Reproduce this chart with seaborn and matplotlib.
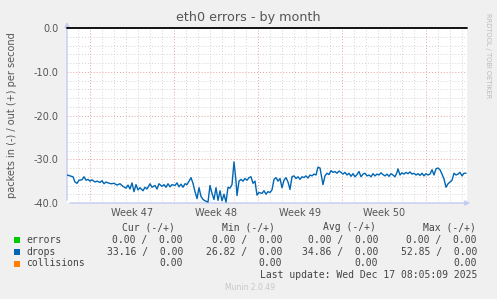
import numpy as np
import pandas as pd
import matplotlib
matplotlib.use("Agg")
import matplotlib.pyplot as plt
from matplotlib.transforms import blended_transform_factory
import seaborn as sns

# ---------------- data ----------------
hours = [0, 6, 12, 16, 20, 24, 30, 34, 38, 42, 46, 50, 56, 60, 66, 70, 74, 78, 82, 88,
         94, 100, 106, 112, 118, 122, 126, 130, 134, 138, 142, 146, 152, 156, 160, 166,
         170, 176, 180, 184, 190, 194, 198, 202, 206, 210, 216, 220, 224, 228, 232, 236,
         240, 244, 248, 252, 256, 260, 264, 268, 272, 278, 282, 286, 290, 294, 298, 302,
         306, 310, 314, 318, 322, 326, 330, 334, 338, 340, 344, 348, 352, 356, 360, 364,
         368, 372, 376, 380, 384, 390, 394, 398, 402, 406, 410, 414, 418, 422, 426, 430,
         434, 438, 442, 446, 450, 454, 458, 462, 466, 470, 474, 478, 482, 486, 490, 494,
         498, 502, 506, 510, 512, 516, 520, 524, 528, 532, 536, 540, 544, 548, 552, 556,
         560, 564, 568, 572, 576, 580, 584, 588, 592, 596, 600, 604, 608, 612, 616, 620,
         624, 628, 632, 636, 640, 644, 648, 652, 656, 660, 662, 666, 670, 674, 678, 682,
         686, 690, 694, 698, 702, 706, 710, 714, 718, 722, 726, 730, 734, 738, 742, 746,
         750, 754, 758, 762, 766, 770, 774, 778, 782, 786, 790, 794, 798]
drops = [-33.6, -33.8, -34.0, -35.2, -35.5, -34.8, -34.7, -34.0, -34.8, -34.6, -35.0, -34.7,
         -35.2, -35.0, -35.3, -34.9, -35.6, -35.2, -35.4, -35.6, -35.5, -35.9, -35.6, -36.2,
         -36.6, -35.9, -36.8, -35.4, -37.4, -35.8, -37.0, -36.5, -37.2, -36.4, -36.8, -35.6,
         -36.4, -36.0, -36.8, -35.6, -36.2, -35.8, -36.4, -35.6, -36.3, -35.8, -36.0, -35.4,
         -36.3, -35.7, -36.4, -35.6, -35.8, -35.0, -34.2, -35.5, -37.4, -39.0, -36.5, -38.5,
         -39.2, -39.6, -39.8, -36.0, -37.8, -39.2, -36.5, -39.4, -37.2, -39.5, -38.0, -39.8,
         -36.4, -36.6, -35.8, -30.6, -35.0, -38.3, -35.0, -34.6, -35.0, -34.4, -34.8, -34.2,
         -34.0, -35.5, -35.0, -38.2, -37.6, -37.8, -37.2, -38.0, -37.4, -37.6, -37.0, -34.6,
         -34.2, -35.0, -34.4, -36.5, -34.8, -34.2, -35.2, -36.9, -34.0, -33.8, -34.4, -34.0,
         -34.6, -34.0, -34.2, -33.8, -34.3, -33.6, -33.8, -33.4, -33.6, -31.8, -32.0, -34.5,
         -35.8, -33.8, -33.2, -33.5, -32.6, -33.0, -32.8, -33.2, -32.7, -33.0, -33.4, -33.0,
         -33.6, -33.2, -33.9, -33.3, -34.0, -33.5, -32.8, -34.0, -33.4, -33.2, -33.8, -33.6,
         -34.0, -33.3, -33.8, -33.4, -33.6, -33.1, -33.5, -33.8, -33.4, -33.9, -33.3, -33.6,
         -34.0, -33.0, -32.2, -33.6, -33.1, -33.4, -33.0, -33.3, -32.9, -33.4, -33.2, -33.6,
         -33.3, -33.7, -33.2, -33.8, -33.3, -33.6, -33.4, -32.4, -33.6, -32.2, -32.0, -32.4,
         -33.4, -34.5, -36.4, -35.6, -35.2, -34.8, -33.2, -33.6, -33.4, -33.0, -33.8, -33.2,
         -33.2]

week_labels = ["Week 47", "Week 48", "Week 49", "Week 50"]
week_label_hours = [130, 298, 466, 634]
week_start_hours = [46, 214, 382, 550, 718]
y_ticks = [0.0, -10.0, -20.0, -30.0, -40.0]

legend_names = ["errors", "drops", "collisions"]
legend_colors = ["#00CC00", "#0066B3", "#FF8000"]
cur_vals = ["0.00 /  0.00", "33.16 /  0.00", "0.00"]
min_vals = ["0.00 /  0.00", "26.82 /  0.00", "0.00"]
avg_vals = ["0.00 /  0.00", "34.86 /  0.00", "0.00"]
max_vals = ["0.00 /  0.00", "52.85 /  0.00", "0.00"]
col_headers = ["Cur (-/+)", "Min (-/+)", "Avg (-/+)", "Max (-/+)"]

# ---------------- figure ----------------
sns.set_style("white")
plt.rcParams['font.family'] = ['DejaVu Sans']
plt.rcParams['axes.unicode_minus'] = False

W, H = 497, 299
fig = plt.figure(figsize=(W / 100, H / 100), dpi=100, facecolor='#F0F0F0')
ax = fig.add_axes([67 / W, 1 - 203 / H, 400 / W, 175 / H])
ax.set_facecolor('white')

df = pd.DataFrame({'hours': hours, 'drops': drops})

ax.set_xlim(0, 800)
ax.set_ylim(-40, 0)

# grid
ax.set_yticks(y_ticks)
ax.set_yticks(np.arange(-40, 0.1, 2), minor=True)
ax.set_xticks(week_start_hours)
ax.set_xticks(np.arange(22, 800, 24), minor=True)
ax.grid(which='minor', color='#D4D4D4', linestyle=(0, (1, 2)), linewidth=0.7)
ax.grid(which='major', color='#E4A0A0', linestyle=(0, (1, 2)), linewidth=0.7)
ax.set_axisbelow(True)

sns.lineplot(data=df, x='hours', y='drops', ax=ax, color='#0066B3', linewidth=1.0, zorder=4)
ax.plot([0, 800], [0, 0], color='black', lw=1.3, zorder=5, clip_on=False)

ax.set_xlabel('')
ax.set_ylabel('packets in (-) / out (+) per second', fontsize=7, color='#555555', labelpad=12)
ax.set_yticklabels([f"{v:.1f}" for v in y_ticks], fontsize=7, color='#555555')
ax.set_xticklabels([])
ax.tick_params(axis='y', which='both', length=0, pad=6)
ax.tick_params(axis='x', which='both', length=0)
for s in ax.spines.values():
    s.set_visible(False)

trans = blended_transform_factory(ax.transData, ax.transAxes)
for h, lab in zip(week_label_hours, week_labels):
    ax.text(h, -0.055, lab, transform=trans, ha='center', va='center',
            fontsize=7, color='#555555')

# axis lines with arrows
acol = '#C4CCF2'
ax.annotate('', xy=(0, 1.05), xytext=(0, 0), xycoords='axes fraction',
            arrowprops=dict(arrowstyle='-|>', color=acol, lw=1.0, mutation_scale=7))
ax.annotate('', xy=(1.015, 0), xytext=(0, 0), xycoords='axes fraction',
            arrowprops=dict(arrowstyle='-|>', color=acol, lw=1.0, mutation_scale=7))

def P(x, y):
    return x / W, 1 - y / H

fig.text(*P(248, 18), 'eth0 errors - by month', ha='center', va='center',
         fontsize=9.2, color='#555555')
fig.text(*P(488, 56), 'RRDTOOL / TOBI OETIKER', ha='center', va='center',
         rotation=270, fontsize=4.8, color='#BBBBBB')

mono = 'DejaVu Sans Mono'
tcol = '#444444'
fs = 7
header_left = [122, 222, 323, 423]
for x, t in zip(header_left, col_headers):
    fig.text(*P(x, 227), t, ha='left', va='center', family=mono, fontsize=fs, color=tcol)

row_y = [240, 252, 263.5]
right_x = [183, 282, 378, 477]
for i, (name, c) in enumerate(zip(legend_names, legend_colors)):
    y = row_y[i]
    fig.patches.append(plt.Rectangle(P(14, y + 3), 6 / W, 6 / H, transform=fig.transFigure,
                                     facecolor=c, edgecolor='none'))
    fig.text(*P(26, y), name, ha='left', va='center', family=mono, fontsize=fs, color=tcol)
    for x, vals in zip(right_x, [cur_vals, min_vals, avg_vals, max_vals]):
        fig.text(*P(x, y), vals[i], ha='right', va='center', family=mono,
                 fontsize=fs, color=tcol)

fig.text(*P(477, 275), 'Last update: Wed Dec 17 08:05:09 2025', ha='right', va='center',
         family=mono, fontsize=fs, color=tcol)
fig.text(*P(250, 288), 'Munin 2.0.49', ha='center', va='center', fontsize=5.5, color='#C8C8C8')

fig.savefig('out.png', dpi=100, facecolor=fig.get_facecolor())
